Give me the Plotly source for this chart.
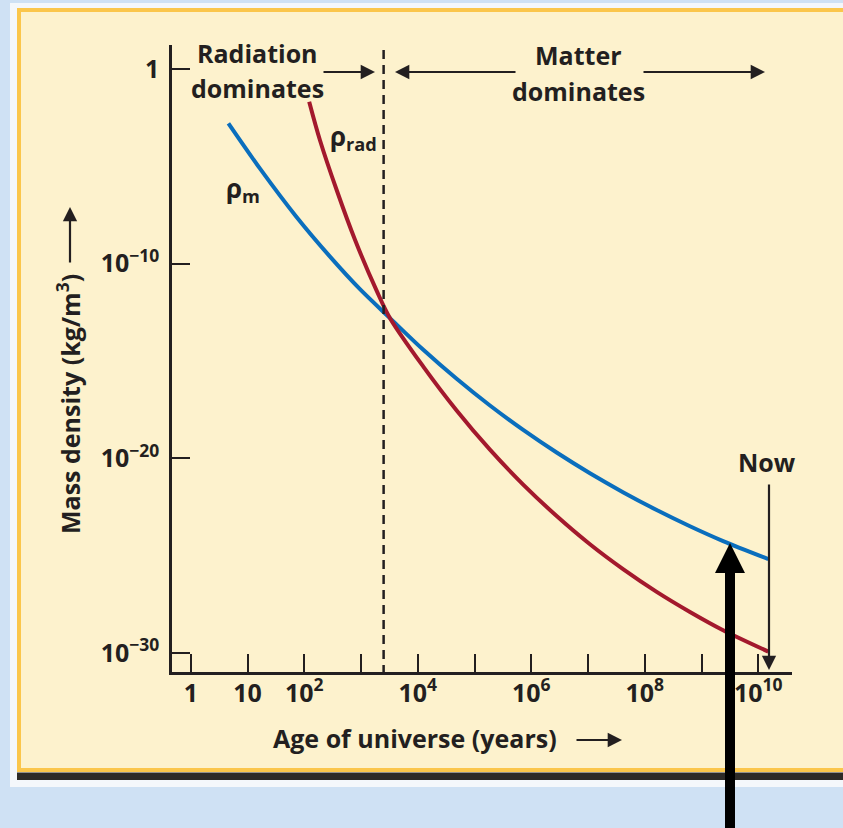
import plotly.graph_objects as go

# ---------------- data ----------------
age_matter = [4.6, 16.6, 73, 284, 957, 3240, 1.25e4, 4.84e4, 1.87e5, 7.2e5, 2.8e6, 1.08e7,
              4.2e7, 1.62e8, 6.25e8, 2.4e9, 1.5e10]
rho_matter = [1.6e-3, 7.6e-6, 2.5e-8, 2.3e-10, 4.9e-12, 1.6e-13, 3.8e-15, 1.23e-16, 5.2e-18,
              2.9e-19, 2.0e-20, 1.73e-21, 1.8e-22, 2.25e-23, 3.3e-24, 5.7e-25, 6.8e-26]

age_rad = [122, 189, 372, 782, 1890, 3240, 1.25e4, 4.84e4, 1.87e5, 7.2e5, 2.8e6, 1.08e7,
           4.2e7, 1.62e8, 6.25e8, 2.4e9, 1.5e10]
rho_rad = [2.1e-2, 2.2e-4, 6.1e-7, 1.7e-9, 4.0e-12, 1.6e-13, 5.2e-16, 2.9e-18, 2.8e-20, 4.5e-22,
           1.1e-23, 3.9e-25, 2.0e-26, 1.4e-27, 1.3e-28, 1.5e-29, 1.2e-30]

equality_age = 2500          # dashed boundary between the two eras
dashed_span = [9.5, 1e-31]

x_tick_vals = [1, 10, 1e2, 1e3, 1e4, 1e5, 1e6, 1e7, 1e8, 1e9, 1e10]
x_tick_text = ["1", "10", "10<sup>2</sup>", "", "10<sup>4</sup>", "", "10<sup>6</sup>", "",
               "10<sup>8</sup>", "", "10<sup>10</sup>"]
y_tick_vals = [1, 1e-10, 1e-20, 1e-30]
y_tick_text = ["1", "10<sup>\u221210</sup>", "10<sup>\u221220</sup>", "10<sup>\u221230</sup>"]

# ---------------- styling ----------------
W, H = 843, 828
L, R, T, B = 172, 51, 45, 156
PW, PH = W - L - R, H - T - B
INK = "#231f20"
BLUE = "#0a6ebd"
RED = "#a3192d"
CREAM = "#fdf2cd"
OUTER = "#cfe1f4"
FONT = "Open Sans"


def PX(px):
    return (px - L) / PW


def PY(py):
    return (H - B - py) / PH


fig = go.Figure()

fig.add_trace(go.Scatter(x=age_matter, y=rho_matter, mode="lines",
                         line=dict(color=BLUE, width=4, shape="spline", smoothing=0.9),
                         hoverinfo="skip"))
fig.add_trace(go.Scatter(x=age_rad, y=rho_rad, mode="lines",
                         line=dict(color=RED, width=4, shape="spline", smoothing=0.9),
                         hoverinfo="skip"))
fig.add_trace(go.Scatter(x=[equality_age, equality_age], y=dashed_span, mode="lines",
                         line=dict(color=INK, width=2.5, dash="9px,6px"), hoverinfo="skip"))

shapes = []
shapes.append(dict(type="rect", xref="paper", yref="paper", layer="below",
                   x0=PX(10), x1=PX(850), y0=PY(3), y1=PY(787),
                   fillcolor="#f4f7fb", line=dict(width=0)))
shapes.append(dict(type="rect", xref="paper", yref="paper", layer="below",
                   x0=PX(19), x1=PX(850), y0=PY(10), y1=PY(770),
                   fillcolor=CREAM, line=dict(color="#fbc64b", width=4)))
shapes.append(dict(type="rect", xref="paper", yref="paper", layer="below",
                   x0=PX(17), x1=PX(850), y0=PY(772.5), y1=PY(780),
                   fillcolor="#2d2a27", line=dict(width=0)))
# big black pointer arrow
pts = [(725, 830), (725, 573), (715, 573), (730, 543), (745, 573), (735, 573), (735, 830)]
path = "M " + " L ".join(f"{PX(x):.5f},{PY(y):.5f}" for x, y in pts) + " Z"
shapes.append(dict(type="path", xref="paper", yref="paper", layer="above", path=path,
                   fillcolor="#000000", line=dict(width=0)))

annotations = []


def text(t, x, y, size=25, xanchor="center", angle=0):
    annotations.append(dict(text=t, x=PX(x), y=PY(y), xref="paper", yref="paper",
                            showarrow=False, xanchor=xanchor, yanchor="middle",
                            textangle=angle,
                            font=dict(family=FONT, size=size, color=INK, weight=700)))


def arrow(tail, tip, width=2.2):
    annotations.append(dict(text="", x=PX(tip[0]), y=PY(tip[1]), xref="paper", yref="paper",
                            ax=tail[0] - tip[0], ay=tail[1] - tip[1], axref="pixel", ayref="pixel",
                            showarrow=True, arrowhead=2, arrowsize=1.3, arrowwidth=width,
                            arrowcolor=INK))


text("Radiation", 257, 53)
text("dominates", 257, 88)
text("Matter", 578, 55)
text("dominates", 578, 91)
text("Now", 767, 462)
text("\u03c1<sub>m</sub>", 243, 189, size=26)
text("\u03c1<sub>rad</sub>", 353, 137, size=26)
text("Age of universe (years)", 415, 738, size=25)
text("Mass density (kg/m<sup>3</sup>)", 68, 404, size=25, angle=-90)

arrow((322, 72), (375, 72))
arrow((517, 72), (395, 72))
arrow((642, 72), (765, 72))
arrow((769, 483), (769, 670))
arrow((575, 740), (622, 740))
arrow((70, 264), (70, 207))

tickfont = dict(family=FONT, size=25, color=INK, weight=700)
fig.update_layout(
    width=W, height=H, autosize=False,
    margin=dict(l=L, r=R, t=T, b=B, pad=0),
    paper_bgcolor=OUTER, plot_bgcolor="rgba(0,0,0,0)",
    showlegend=False, shapes=shapes, annotations=annotations,
    xaxis=dict(type="log", range=[-0.331, 10.594], showline=True, linecolor=INK, linewidth=2.5,
               ticks="inside", ticklen=18, tickwidth=2, tickcolor=INK,
               tickmode="array", tickvals=x_tick_vals, ticktext=x_tick_text,
               showgrid=False, zeroline=False, ticklabelstandoff=-3, tickfont=tickfont),
    yaxis=dict(type="log", range=[-30.97, 1.233], showline=True, linecolor=INK, linewidth=2.5,
               ticks="inside", ticklen=18, tickwidth=2, tickcolor=INK,
               tickmode="array", tickvals=y_tick_vals, ticktext=y_tick_text,
               showgrid=False, zeroline=False, ticklabelstandoff=5, tickfont=tickfont),
)

fig.write_html("out.html", config={"displayModeBar": False},
               post_script="document.body.style.margin='0px';"
                           "document.body.style.overflow='hidden';"
                           "document.body.style.background='" + OUTER + "';")
